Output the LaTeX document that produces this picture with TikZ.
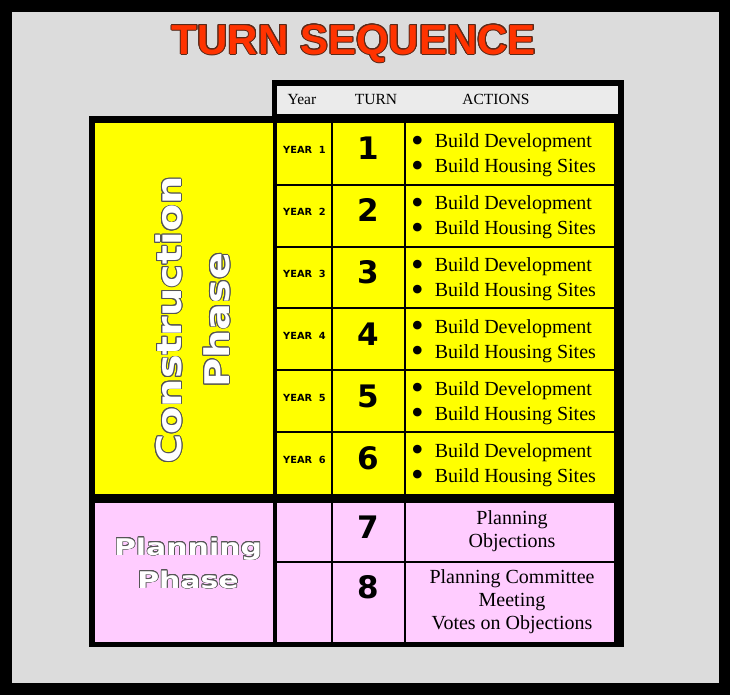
\documentclass[tikz,border=0pt]{standalone}
\usepackage{fontspec}
\setmainfont{Liberation Serif}
\newfontfamily\titlefont{Liberation Sans}
\newfontfamily\phasefont{DejaVu Sans}[FakeStretch=1.17]
\newfontfamily\planfont{DejaVu Sans}[FakeStretch=1.3]
\newfontfamily\cellfont{DejaVu Sans}
\usepackage{contour}
\usetikzlibrary{positioning}

\definecolor{bggrey}{HTML}{DCDCDC}
\definecolor{headgrey}{HTML}{EBEBEB}
\definecolor{buildyellow}{HTML}{FFFF00}
\definecolor{planpink}{HTML}{FFCCFF}
\definecolor{titlered}{HTML}{FF3300}
\definecolor{titleedge}{HTML}{5A2A1A}
\definecolor{phaseedge}{HTML}{555555}

\newcommand{\bigbullet}{\raisebox{-4.5pt}{\scalebox{1.8}{\textbullet}}}
\newcommand{\bulletpair}{%
  \begin{tabular}[t]{@{}l@{\hspace{11pt}}l@{}}
    \bigbullet & Build Development\\
    \bigbullet & Build Housing Sites
  \end{tabular}}

\begin{document}
\begin{tikzpicture}[x=1pt, y=-1pt,
    gridline/.style={line width=2pt, black},
    headtext/.style={inner sep=0pt, anchor=base, font=\fontsize{15.5}{18}\selectfont},
    yeartext/.style={inner sep=0pt, anchor=base, font=\cellfont\bfseries\fontsize{9.8}{11}\selectfont},
    turnnum/.style={inner sep=0pt, anchor=base, font=\cellfont\bfseries\fontsize{31}{31}\selectfont},
    actiontext/.style={inner sep=0pt, anchor=base west, font=\fontsize{20}{25}\selectfont},
    plantext/.style={inner sep=0pt, align=center, font=\fontsize{20}{23}\selectfont}]
  \useasboundingbox (0,0) rectangle (730,695);
  % frame and background
  \fill[black] (0,0) rectangle (730,695);
  \fill[bggrey] (12,12) rectangle (719,683);

  % title
  \node[text=titlered, font=\titlefont\bfseries\fontsize{42}{42}\selectfont] (title) at (354,44)
    {\contourlength{1pt}\contour{titleedge}{TURN SEQUENCE}};

  % header row
  \fill[black] (272,80) rectangle (624,118);
  \fill[headgrey] (277,86) rectangle (618,114);
  \node[headtext] (hyear) at (302,105) {Year};
  \node[headtext] (hturn) at (376,105) {TURN};
  \node[headtext] (hactions) at (496,105) {ACTIONS};

  % table body
  \fill[black] (89,116) rectangle (624,647);
  \fill[buildyellow] (95,123) rectangle (273,494);
  \fill[planpink] (95,503) rectangle (273,642);
  \fill[buildyellow] (277,123) rectangle (614,494);
  \fill[planpink] (277,503) rectangle (614,642);
  \foreach \x in {332,405} {
    \draw[gridline] (\x,123) -- (\x,494);
    \draw[gridline] (\x,503) -- (\x,642);
  }
  \foreach \n in {1,...,5}
    \draw[gridline] (277,{123+\n*61.83}) -- (614,{123+\n*61.83});
  \draw[gridline] (277,561.5) -- (614,561.5);

  % phases
  \node[rotate=90, align=center, text=white, font=\phasefont\bfseries\fontsize{34}{48}\selectfont] (buildphase) at (193,320)
    {\contourlength{0.8pt}\contour{phaseedge}{Construction}\\\contourlength{0.8pt}\contour{phaseedge}{Phase}};
  \node[align=center, text=white, font=\planfont\bfseries\fontsize{23}{33}\selectfont] (planphase) at (188,563.5)
    {\contourlength{0.7pt}\contour{phaseedge}{Planning}\\\contourlength{0.7pt}\contour{phaseedge}{Phase}};

  % construction years
  \foreach \n in {1,...,6} {
    \node[yeartext] (year\n) at (304.5,{154+(\n-1)*61.83}) {YEAR\ \ \n};
    \node[turnnum] (turn\n) at (368.5,{160+(\n-1)*61.83}) {\n};
    \node[actiontext] (act\n) at (411,{148+(\n-1)*61.83}) {\bulletpair};
  }

  % planning turns
  \node[turnnum] (turn7) at (368.5,538) {7};
  \node[turnnum] (turn8) at (368.5,598) {8};
  \node[plantext] (act7) at (512,531.5) {Planning\\Objections};
  \node[plantext] (act8) at (512,602) {Planning Committee\\Meeting\\Votes on Objections};
\end{tikzpicture}
\end{document}
